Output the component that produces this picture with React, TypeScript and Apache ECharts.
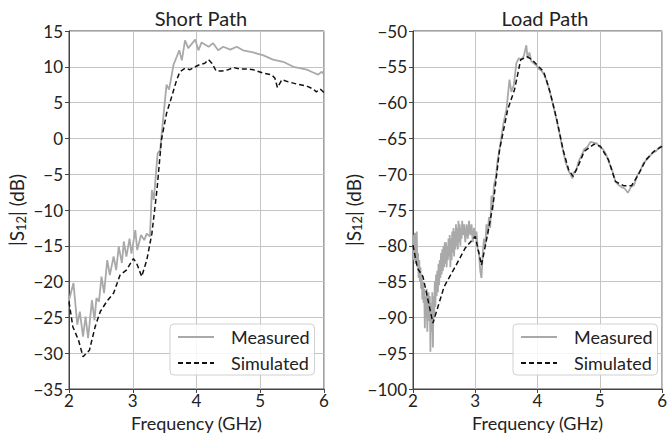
import React, { useEffect, useRef } from "react";
import * as echarts from "echarts";

const shortMeasFreq = [2.0, 2.07, 2.13, 2.17, 2.22, 2.26, 2.3, 2.36, 2.4, 2.43, 2.47, 2.51, 2.55, 2.6, 2.64, 2.7, 2.74, 2.78, 2.83, 2.86, 2.9, 2.95, 2.98, 3.04, 3.07, 3.13, 3.18, 3.22, 3.27, 3.3, 3.33, 3.39, 3.43, 3.48, 3.53, 3.57, 3.64, 3.69, 3.73, 3.77, 3.82, 3.87, 3.98, 4.03, 4.08, 4.19, 4.26, 4.34, 4.42, 4.53, 4.63, 4.73, 4.89, 5.05, 5.2, 5.36, 5.52, 5.62, 5.73, 5.83, 5.91, 5.96, 6.0];
const shortMeasVal = [-22.6, -20.2, -26, -24.2, -27.7, -24.9, -27.9, -22.6, -25.4, -22.3, -22.8, -19.3, -21.6, -17, -19.1, -16.5, -18.4, -15.1, -17.4, -14.4, -16.5, -14, -16.1, -12.8, -15.6, -13.5, -14.2, -13.3, -13.7, -7.2, -8.6, -2.1, -1.6, 3.0, 7.5, 6.8, 10.3, 11.4, 12.3, 10.9, 13.7, 12.6, 13.8, 12.3, 13.4, 12.8, 13.3, 12.3, 12.8, 12.4, 12.8, 12.3, 12.0, 11.6, 11.0, 10.7, 10.0, 9.8, 9.6, 9.2, 8.9, 9.3, 9.0];

const shortSimFreq = [2.0, 2.06, 2.15, 2.22, 2.32, 2.41, 2.49, 2.59, 2.7, 2.8, 2.9, 3.01, 3.06, 3.14, 3.22, 3.3, 3.38, 3.45, 3.53, 3.61, 3.69, 3.74, 3.82, 3.9, 3.98, 4.05, 4.13, 4.19, 4.24, 4.31, 4.39, 4.5, 4.58, 4.68, 4.79, 4.89, 5.05, 5.18, 5.23, 5.27, 5.34, 5.44, 5.57, 5.73, 5.83, 5.88, 5.94, 6.0];
const shortSimVal = [-22.8, -26.3, -28.2, -30.5, -29.6, -26.3, -24.2, -22.8, -21.6, -19.1, -18.4, -16.8, -17.4, -19.3, -17, -13.3, -7.2, -0.2, 3.5, 5.8, 8.2, 9.3, 9.8, 9.6, 10.0, 10.3, 10.5, 11.0, 10.5, 9.4, 9.4, 9.6, 9.9, 9.7, 9.7, 9.6, 9.1, 8.9, 8.4, 7.1, 8.2, 7.9, 7.6, 7.3, 6.9, 6.5, 6.9, 6.4];

const loadMeasFreq = [2.0, 2.01, 2.02, 2.03, 2.04, 2.05, 2.06, 2.07, 2.08, 2.09, 2.1, 2.11, 2.12, 2.13, 2.14, 2.15, 2.16, 2.17, 2.18, 2.19, 2.2, 2.21, 2.22, 2.23, 2.24, 2.25, 2.26, 2.27, 2.28, 2.29, 2.3, 2.31, 2.32, 2.33, 2.34, 2.35, 2.36, 2.37, 2.38, 2.39, 2.4, 2.41, 2.42, 2.43, 2.44, 2.45, 2.46, 2.47, 2.48, 2.49, 2.5, 2.51, 2.52, 2.53, 2.54, 2.55, 2.56, 2.57, 2.58, 2.59, 2.6, 2.61, 2.62, 2.63, 2.64, 2.65, 2.66, 2.67, 2.68, 2.69, 2.7, 2.71, 2.72, 2.73, 2.74, 2.75, 2.76, 2.77, 2.78, 2.79, 2.8, 2.82, 2.84, 2.86, 2.88, 2.9, 2.92, 2.94, 2.96, 2.98, 3.0, 3.02, 3.04, 3.06, 3.08, 3.1, 3.12, 3.14, 3.16, 3.18, 3.2, 3.22, 3.24, 3.26, 3.28, 3.3, 3.33, 3.36, 3.4, 3.45, 3.5, 3.55, 3.58, 3.62, 3.66, 3.7, 3.74, 3.78, 3.82, 3.84, 3.87, 3.9, 3.94, 3.98, 4.02, 4.06, 4.1, 4.15, 4.2, 4.25, 4.3, 4.35, 4.4, 4.45, 4.5, 4.53, 4.56, 4.58, 4.62, 4.66, 4.7, 4.75, 4.8, 4.85, 4.9, 4.95, 5.0, 5.05, 5.1, 5.15, 5.2, 5.25, 5.3, 5.35, 5.4, 5.45, 5.5, 5.55, 5.6, 5.65, 5.7, 5.75, 5.8, 5.85, 5.9, 5.95, 6.0];
const loadMeasVal = [-78.5, -82, -80, -78.2, -82.5, -79, -78, -83, -81, -84.5, -82, -85, -83, -86, -84, -87.5, -85, -88, -86, -91.5, -87, -90, -86, -92, -88, -86.5, -90.5, -87, -94.8, -88, -92, -86.5, -94.2, -87, -90, -85, -88.5, -84, -87, -83.5, -86.5, -82.5, -85.5, -82, -84.5, -81, -84, -80.5, -83.5, -80, -83, -79.5, -82.5, -79.5, -83, -80, -82, -79, -81.5, -78.5, -83, -79, -82, -78, -81, -77.5, -81.5, -78, -80.5, -77, -80, -77.5, -80.5, -76.5, -79.5, -77, -80, -77.5, -79, -76.5, -78.5, -77, -79.5, -77, -79, -76.5, -78.5, -77, -79.5, -77.5, -79, -78, -80.5, -81, -83.5, -84.5, -81, -79, -80, -77, -78.5, -76, -77.5, -73, -75, -71.5, -70.5, -68, -66, -63, -61, -56.8, -58.5, -57.5, -54.5, -53.8, -54, -53.5, -52, -53.8, -53, -54.2, -54.5, -54.8, -55.3, -55.5, -56, -57, -58.6, -60.3, -62.2, -64.2, -66.3, -68.3, -69.6, -70, -70.6, -69.8, -69.5, -68.2, -67.5, -66.5, -66.2, -65.5, -65.6, -65.7, -66.2, -66.5, -67.2, -68.4, -69.5, -71, -71.5, -71.8, -72, -72.6, -71.8, -71.5, -70.2, -69.5, -68.5, -68, -67.5, -67, -66.8, -66.3, -66];

const loadSimFreq = [2.0, 2.07, 2.16, 2.32, 2.5, 2.68, 2.84, 3.0, 3.1, 3.22, 3.29, 3.39, 3.52, 3.63, 3.73, 3.84, 3.91, 4.02, 4.1, 4.2, 4.31, 4.41, 4.5, 4.57, 4.65, 4.75, 4.91, 5.01, 5.14, 5.25, 5.38, 5.51, 5.61, 5.74, 5.87, 6.0];
const loadSimVal = [-79.9, -83.1, -84.3, -90.8, -85.7, -82.9, -80.3, -78.7, -82.7, -77.4, -74, -66.6, -61, -58.2, -54, -53.6, -54, -55, -55.7, -58.5, -62.4, -66.6, -69.4, -70.3, -68.9, -66.8, -65.8, -66.1, -68, -71, -71.6, -71.6, -70.2, -68, -66.8, -66.1];

const xTicks = [2, 3, 4, 5, 6];
const shortYRange = [-35, 15];
const loadYRange = [-100, -50];
const titles = ["Short Path", "Load Path"];
const legendNames = ["Measured", "Simulated"];

const zip = (a: number[], b: number[]) => a.map((v, i) => [v, b[i]]);
const FONT = "Lato";
const fmt = (v: number) => (v < 0 ? "\u2212" + Math.abs(v) : String(v));

export default function App() {
  const ref = useRef<HTMLDivElement>(null);
  useEffect(() => {
    if (!ref.current) return;
    const chart = echarts.init(ref.current, undefined, { renderer: "svg" });
    const grids = [
      { left: 69, top: 31, width: 255, height: 358 },
      { left: 413, top: 31, width: 255, height: 358 },
    ];
    const xAxis = grids.map((_, i) => ({
      type: "value",
      gridIndex: i,
      min: xTicks[0],
      max: xTicks[xTicks.length - 1],
      interval: 1,
      name: "Frequency (GHz)",
      nameLocation: "middle",
      nameGap: 25,
      nameTextStyle: { fontFamily: FONT, fontSize: 18, color: "#222" },
      axisLine: { show: true, onZero: false, lineStyle: { color: "#444", width: 1 } },
      axisTick: { show: true, inside: false, length: 4, lineStyle: { color: "#444" } },
      axisLabel: { fontFamily: FONT, fontSize: 17, color: "#222", margin: 3, formatter: fmt },
      splitLine: { show: true, lineStyle: { color: "#c4c4c4", width: 1 } },
    }));
    const ranges = [shortYRange, loadYRange];
    const yAxis = ranges.map((r, i) => ({
      type: "value",
      gridIndex: i,
      min: r[0],
      max: r[1],
      interval: 5,
      name: "|S{sub|12}| (dB)",
      nameLocation: "middle",
      nameGap: i === 0 ? 42 : 49,
      nameTextStyle: {
        fontFamily: FONT,
        fontSize: 19,
        color: "#222",
        rich: {
          sub: { fontFamily: FONT, fontSize: 13, color: "#222", padding: [8, 0, 0, 0] },
        },
      },
      axisLine: { show: true, onZero: false, lineStyle: { color: "#444", width: 1 } },
      axisTick: { show: true, inside: false, length: 4, lineStyle: { color: "#444" } },
      axisLabel: { fontFamily: FONT, fontSize: 17, color: "#222", margin: 6, formatter: fmt },
      splitLine: { show: true, lineStyle: { color: "#c4c4c4", width: 1 } },
    }));
    const meas = { type: "solid", color: "#a9a9a9", width: 1.8 };
    const sim = { type: [5, 3], color: "#111", width: 1.5 };
    const mk = (name: string, data: number[][], idx: number, ls: any, z: number) => ({
      type: "line",
      name,
      xAxisIndex: idx,
      yAxisIndex: idx,
      data,
      showSymbol: false,
      symbol: "none",
      lineStyle: ls,
      itemStyle: { color: ls.color },
      z,
    });
    const legendBase = {
      orient: "vertical",
      data: legendNames,
      itemWidth: 36,
      itemHeight: 18,
      itemGap: 8,
      padding: [4, 5, 3, 7],
      borderColor: "#d0d0d0",
      borderWidth: 1,
      borderRadius: 4,
      backgroundColor: "rgba(255,255,255,0.85)",
      itemStyle: { color: "transparent", borderWidth: 0, opacity: 0 },
      textStyle: { fontFamily: FONT, fontSize: 18, color: "#222", padding: [0, 0, 0, 12] },
      selectedMode: false,
    };
    chart.setOption({
      animation: false,
      title: titles.map((t, i) => ({
        text: t,
        left: i === 0 ? 196 : 540,
        top: 3,
        textAlign: "center",
        textStyle: { fontFamily: FONT, fontSize: 20, fontWeight: "normal", color: "#222" },
      })),
      grid: grids.map((g) => ({ ...g, show: true, borderColor: "#444", borderWidth: 1, backgroundColor: "transparent" })),
      xAxis,
      yAxis,
      legend: [
        { ...legendBase, left: 170, top: 324 },
        { ...legendBase, left: 513, top: 324 },
      ],
      series: [
        mk("Measured", zip(shortMeasFreq, shortMeasVal), 0, meas, 2),
        mk("Simulated", zip(shortSimFreq, shortSimVal), 0, sim, 3),
        mk("Measured", zip(loadMeasFreq, loadMeasVal), 1, meas, 2),
        mk("Simulated", zip(loadSimFreq, loadSimVal), 1, sim, 3),
      ],
    });
    return () => chart.dispose();
  }, []);
  return (
    <div
      ref={ref}
      style={{ position: "fixed", left: 0, top: 0, width: 670, height: 438, background: "#fff" }}
    />
  );
}
